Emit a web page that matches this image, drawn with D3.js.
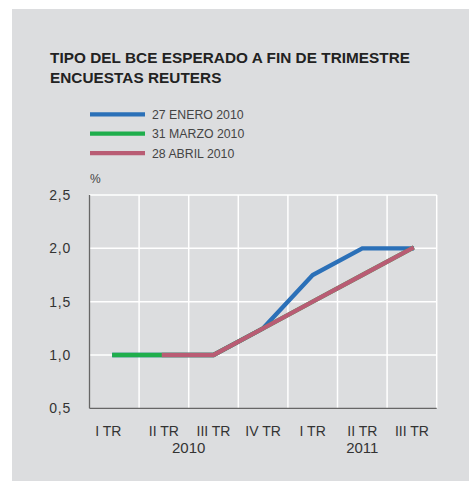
<!DOCTYPE html>
<html>
<head>
<meta charset="utf-8">
<script src="https://cdn.jsdelivr.net/npm/d3@7"></script>
<style>
	body { margin: 0; background: #fff; }
	text { font-family: "Liberation Sans", Arial, sans-serif; }
</style>
</head>
<body>
<div id="chart"></div>
<script>
// quarters shown on the x axis
var quarters = ["I TR", "II TR", "III TR", "IV TR", "I TR", "II TR", "III TR"];
// year labels: placed between quarter indexes "from" and "to"
var years = [
	{ label: "2010", from: 1, to: 2 },
	{ label: "2011", from: 5, to: 5 }
];
var yTicks = [0.5, 1.0, 1.5, 2.0, 2.5];

// expected ECB rate per quarter, one array per survey (null = no data)
var enero = [1.0, 1.0, 1.0, 1.25, 1.75, 2.0, 2.0];
var marzo = [1.0, 1.0, 1.0, 1.25, 1.5, 1.75, 2.0];
var abril = [null, 1.0, 1.0, 1.25, 1.5, 1.75, 2.0];

var seriesNames = ["27 ENERO 2010", "31 MARZO 2010", "28 ABRIL 2010"];
var seriesColors = ["#2b70b8", "#1fae4c", "#b95c74"];
var seriesValues = [enero, marzo, abril];

function renderChart() {
	var W = 469, H = 481;
	var svg = d3.select("#chart")
		.append("svg")
		.attr("width", W)
		.attr("height", H);

	// gray panel
	svg.append("rect")
		.attr("x", 12)
		.attr("y", 9)
		.attr("width", W - 12)
		.attr("height", H - 9)
		.attr("fill", "#dcdddf");

	// title
	svg.append("text")
		.attr("x", 50)
		.attr("y", 63)
		.attr("fill", "#222")
		.style("font-size", "15.3px")
		.style("font-weight", "bold")
		.style("letter-spacing", "0.05px")
		.text("TIPO DEL BCE ESPERADO A FIN DE TRIMESTRE");
	svg.append("text")
		.attr("x", 50)
		.attr("y", 83)
		.attr("fill", "#222")
		.style("font-size", "15.3px")
		.style("font-weight", "bold")
		.style("letter-spacing", "0.05px")
		.text("ENCUESTAS REUTERS");

	// legend
	var legend = svg.selectAll(".legend")
		.data(seriesNames)
		.enter()
		.append("g")
		.attr("class", "legend")
		.attr("transform", function (d, i) {
			return "translate(90," + (114.3 + i * 19.4) + ")";
		});
	legend.append("line")
		.attr("x1", 0)
		.attr("x2", 55)
		.attr("stroke", function (d, i) { return seriesColors[i]; })
		.attr("stroke-width", 4.3);
	legend.append("text")
		.attr("x", 62)
		.attr("dy", "0.36em")
		.attr("fill", "#444")
		.style("font-size", "12.3px")
		.text(function (d) { return d; });

	svg.append("text")
		.attr("x", 90)
		.attr("y", 183)
		.attr("fill", "#444")
		.style("font-size", "12px")
		.text("%");

	// plot area
	var pLeft = 89.5, pRight = 436.7, pTop = 195, pBottom = 408.3;

	var x = d3.scaleBand()
		.domain(d3.range(quarters.length))
		.range([pLeft, pRight]);
	var y = d3.scaleLinear()
		.domain([0.5, 2.5])
		.range([pBottom, pTop]);

	// white grid
	svg.append("g")
		.selectAll("line")
		.data(yTicks.slice(1))
		.enter()
		.append("line")
		.attr("x1", pLeft)
		.attr("x2", pRight)
		.attr("y1", function (d) { return y(d); })
		.attr("y2", function (d) { return y(d); })
		.attr("stroke", "#fff")
		.attr("stroke-width", 1.5);
	svg.append("g")
		.selectAll("line")
		.data(d3.range(1, quarters.length + 1))
		.enter()
		.append("line")
		.attr("x1", function (d) { return x.step() * d + pLeft; })
		.attr("x2", function (d) { return x.step() * d + pLeft; })
		.attr("y1", pTop)
		.attr("y2", pBottom)
		.attr("stroke", "#fff")
		.attr("stroke-width", 1.5);

	// axes lines
	svg.append("line")
		.attr("x1", pLeft).attr("x2", pLeft)
		.attr("y1", pTop).attr("y2", pBottom)
		.attr("stroke", "#666").attr("stroke-width", 1.3);
	svg.append("line")
		.attr("x1", pLeft).attr("x2", pRight)
		.attr("y1", pBottom).attr("y2", pBottom)
		.attr("stroke", "#666").attr("stroke-width", 1.3);

	// y labels
	svg.append("g")
		.selectAll("text")
		.data(yTicks)
		.enter()
		.append("text")
		.attr("x", 71)
		.attr("y", function (d) { return y(d); })
		.attr("dy", "0.36em")
		.attr("text-anchor", "end")
		.attr("fill", "#333")
		.style("font-size", "14px")
		.style("letter-spacing", "0.8px")
		.text(function (d) { return d3.format(".1f")(d).replace(".", ","); });

	// x labels (the first one sits a little left in the original)
	svg.append("g")
		.selectAll("text")
		.data(quarters)
		.enter()
		.append("text")
		.attr("x", function (d, i) {
			return x(i) + x.bandwidth() / 2 - (i === 0 ? 6 : 0);
		})
		.attr("y", 435.5)
		.attr("text-anchor", "middle")
		.attr("fill", "#333")
		.style("font-size", "14px")
		.text(function (d) { return d; });

	svg.append("g")
		.selectAll("text")
		.data(years)
		.enter()
		.append("text")
		.attr("x", function (d) {
			return (x(d.from) + x(d.to)) / 2 + x.bandwidth() / 2;
		})
		.attr("y", 453)
		.attr("text-anchor", "middle")
		.attr("fill", "#333")
		.style("font-size", "15px")
		.text(function (d) { return d.label; });

	// lines
	var line = d3.line()
		.defined(function (d) { return d != null; })
		.x(function (d, i) { return x(i) + x.bandwidth() / 2; })
		.y(function (d) { return y(d); });

	svg.append("g")
		.selectAll("path")
		.data(seriesValues)
		.enter()
		.append("path")
		.attr("d", line)
		.attr("fill", "none")
		.attr("stroke", function (d, i) { return seriesColors[i]; })
		.attr("stroke-width", 4.3)
		.attr("stroke-linecap", "square")
		.attr("stroke-linejoin", "miter");
}

renderChart();
</script>
</body>
</html>
